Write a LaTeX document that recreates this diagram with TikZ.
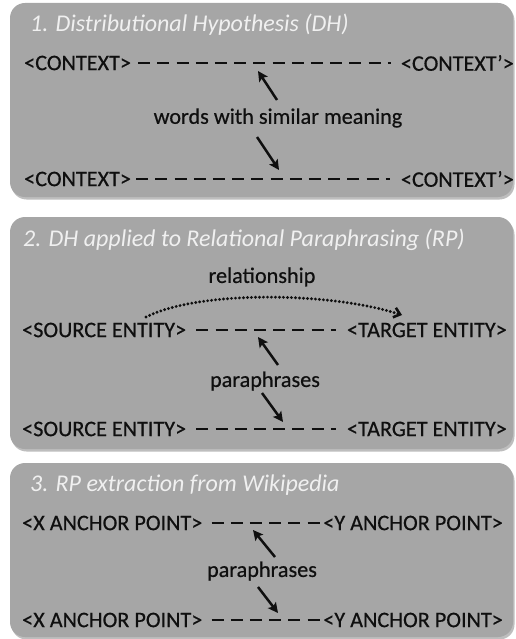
\documentclass[tikz,border=0pt]{standalone}
\usepackage{fontspec}
\setmainfont{Carlito}
\usetikzlibrary{arrows.meta}

\definecolor{panel}{RGB}{166,166,166}
\definecolor{panelshade}{RGB}{110,110,110}
\definecolor{headtext}{RGB}{240,240,240}
\definecolor{ink}{RGB}{15,15,15}

\tikzset{
  panelbox/.style={fill=panel, draw=none, rounded corners=15pt},
  panelshadow/.style={fill=panelshade, draw=none, rounded corners=15pt, opacity=0.45},
  heading/.style={anchor=base west, inner sep=0pt, text=headtext,
    font=\fontsize{24}{28}\selectfont\itshape},
  term/.style={inner sep=0pt, text=ink,
    font=\fontsize{22.2}{26}\selectfont\addfontfeatures{FakeBold=0.5}},
  gapline/.style={draw=ink, line width=2.7pt, dash pattern=on 12pt off 7.2pt},
  ptr/.style={draw=ink, line width=2.5pt, -{Stealth[length=10pt,width=10pt,inset=2pt]}},
  relarc/.style={draw=ink, line width=3.2pt, line cap=round, dash pattern=on 0pt off 4pt,
    -{Straight Barb[length=6pt,width=10pt,line width=2.6pt]}}
}

\begin{document}
\begin{tikzpicture}[x=1pt,y=-1pt]
\useasboundingbox (0,0) rectangle (515,639);

% panel backgrounds with a soft shadow
\foreach \top/\bot in {3/197, 217/449, 463/637}{
  \fill[panelshadow] (11.5,\top+2.5) rectangle (514.5,\bot+2.5);
  \fill[panelbox] (10,\top) rectangle (513,\bot);
}

% ---------- 1. Distributional Hypothesis ----------
\node[heading] (h1) at (30,32) {1. Distributional Hypothesis (DH)};

\node[term, anchor=west] (c1a) at (24,63) {<CONTEXT>};
\node[term, anchor=east] (c1b) at (514,63) {<CONTEXT’>};
\draw[gapline] ([xshift=7pt]c1a.east) -- ([xshift=-10pt]c1b.west);

\node[term] (w1) at (278,118) {words with similar meaning};

\node[term, anchor=west] (c2a) at (24,179) {<CONTEXT>};
\node[term, anchor=east] (c2b) at (514,179) {<CONTEXT’>};
\draw[gapline] ([xshift=5pt]c2a.east) -- ([xshift=-11pt]c2b.west);

\coordinate (u1t) at (277,100);
\coordinate (u1h) at (258,71);
\coordinate (d1t) at (257,137);
\coordinate (d1h) at (279,170);
\draw[ptr] (u1t) -- (u1h);
\draw[ptr] (d1t) -- (d1h);

% ---------- 2. DH applied to Relational Paraphrasing ----------
\node[heading] (h2) at (23,246) {2. DH applied to Relational Paraphrasing (RP)};

\node[term] (rel) at (262,277) {relationship};

\node[term, anchor=west] (s1) at (22,330) {<SOURCE ENTITY>};
\node[term, anchor=east] (t1) at (507,330) {<TARGET ENTITY>};
\draw[gapline] ([xshift=10pt]s1.east) -- ([xshift=-11pt]t1.west);

\coordinate (arcs) at (146,317);
\coordinate (arce) at (402,315);
\draw[relarc] (arcs) .. controls (200,290) and (330,292) .. (arce);

\node[term] (p2) at (265,381) {paraphrases};

\node[term, anchor=west] (s2) at (22,429) {<SOURCE ENTITY>};
\node[term, anchor=east] (t2) at (507,429) {<TARGET ENTITY>};
\draw[gapline] ([xshift=10pt]s2.east) -- ([xshift=-11pt]t2.west);

\coordinate (u2t) at (278,365);
\coordinate (u2h) at (258,337);
\coordinate (d2t) at (262,393);
\coordinate (d2h) at (283,422);
\draw[ptr] (u2t) -- (u2h);
\draw[ptr] (d2t) -- (d2h);

% ---------- 3. RP extraction from Wikipedia ----------
\node[heading] (h3) at (30,491) {3. RP extraction from Wikipedia};

\node[term, anchor=west] (x1) at (22,523) {<X ANCHOR POINT>};
\node[term, anchor=east] (y1) at (503,523) {<Y ANCHOR POINT>};
\draw[gapline] ([xshift=9pt]x1.east) -- ([xshift=-2pt]y1.west);

\node[term] (p3) at (262,571) {paraphrases};

\node[term, anchor=west] (x2) at (22,620) {<X ANCHOR POINT>};
\node[term, anchor=east] (y2) at (503,620) {<Y ANCHOR POINT>};
\draw[gapline] ([xshift=9pt]x2.east) -- ([xshift=-2pt]y2.west);

\coordinate (u3t) at (275,557);
\coordinate (u3h) at (253,530);
\coordinate (d3t) at (258,587);
\coordinate (d3h) at (278,613);
\draw[ptr] (u3t) -- (u3h);
\draw[ptr] (d3t) -- (d3h);
\end{tikzpicture}
\end{document}
